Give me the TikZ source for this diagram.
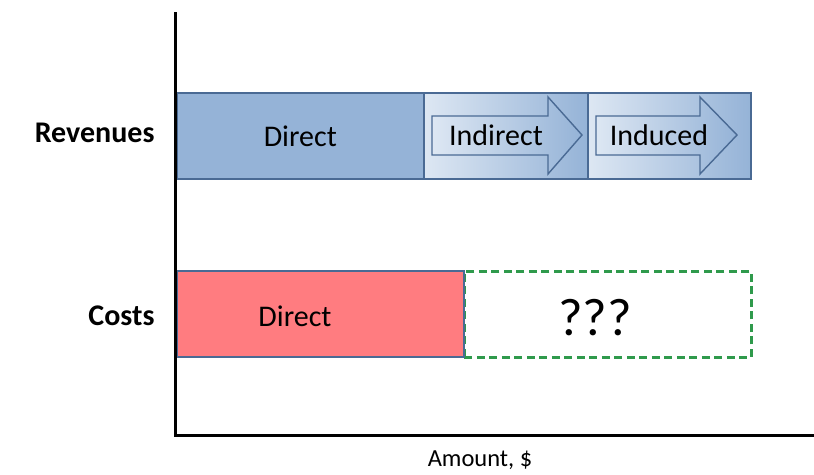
\documentclass[tikz,border=0pt]{standalone}
\usepackage{fontspec}
\setmainfont{Carlito}
\definecolor{revblue}{HTML}{95B3D7}
\definecolor{lightblue}{HTML}{DDE7F3}
\definecolor{edgeblue}{HTML}{4A6A94}
\definecolor{costred}{HTML}{FF7C80}
\definecolor{dashgreen}{HTML}{2F9A4C}
\begin{document}
\begin{tikzpicture}[x=1pt,y=-1pt,
  barbox/.style={draw=edgeblue,line width=1.6pt,inner sep=0pt,anchor=north west},
  arrowbody/.style={draw=edgeblue,line width=1.4pt,left color=lightblue,right color=revblue},
  lbl/.style={font=\fontsize{30}{34}\selectfont},
  side/.style={font=\bfseries\fontsize{30}{34}\selectfont,anchor=east}]
\useasboundingbox (0,0) rectangle (814,474);
% revenue bar
\node[barbox,fill=revblue,minimum width=247pt,minimum height=86pt] (rdir) at (176,92) {};
\node[barbox,left color=lightblue,right color=revblue,minimum width=164pt,minimum height=86pt] (rind) at (423,92) {};
\node[barbox,left color=lightblue,right color=revblue,minimum width=163pt,minimum height=86pt] (rinu) at (587,92) {};
\node[lbl] (tdir) at (rdir.center) {Direct};
% arrows
\draw[arrowbody] (432,116) -- (548,116) -- (548,97) -- (582,135) -- (548,174) -- (548,155) -- (432,155) -- cycle;
\draw[arrowbody] (596,116) -- (700,116) -- (700,97) -- (737,135) -- (700,174) -- (700,155) -- (596,155) -- cycle;
\node[lbl] (tind) at (496,135) {Indirect};
\node[lbl] (tinu) at (659,135) {Induced};
% costs bar
\node[draw=dashgreen,dash pattern=on 8pt off 4.5pt,line width=2.6pt,minimum width=287pt,minimum height=86pt,inner sep=0pt,anchor=north west] (cq) at (463,270) {};
\node[barbox,fill=costred,minimum width=287pt,minimum height=86pt] (cdir) at (176,270) {};
\node[lbl] (tcdir) at (295,316) {Direct};
\node[font=\fontsize{53}{56}\selectfont] (tq) at (595,318) {???};
% axes
\coordinate (o) at (175,435);
\coordinate (top) at (175,12);
\coordinate (right) at (814,435);
\draw[line width=3pt] (top) -- (o) -- (right);
% labels
\node[side] (rev) at (158,133) {Revenues};
\node[side] (cost) at (158,316) {Costs};
\node[font=\fontsize{24.5}{28}\selectfont] (amt) at (480,460) {Amount, \$};
\end{tikzpicture}
\end{document}
